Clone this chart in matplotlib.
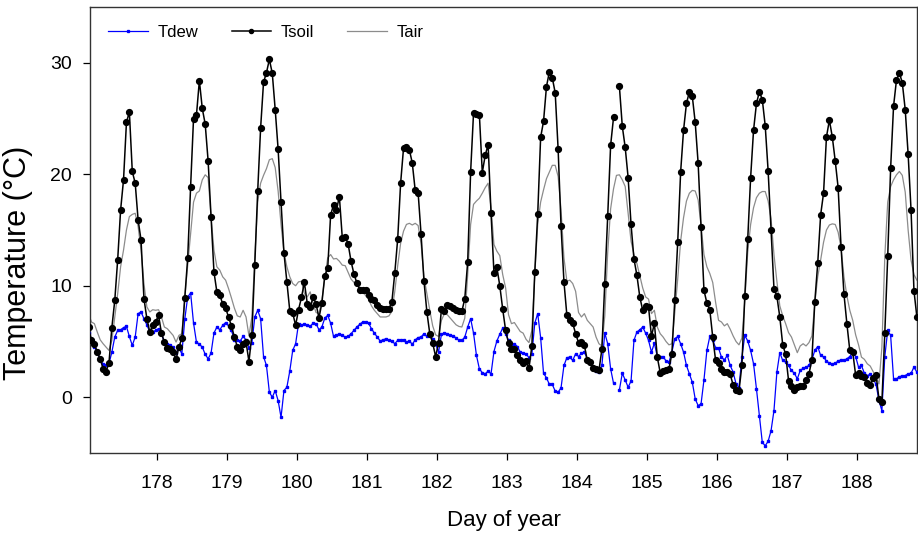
import numpy as np
import matplotlib
matplotlib.use("Agg")
import matplotlib.pyplot as plt

plt.rcParams["font.family"] = ["Liberation Sans", "DejaVu Sans"]

# hourly series, first reading at day 177.022
T0 = 177.022

tsoil = [
    6.3, 5.1, 4.8, 4.05, 3.45, 2.55, 2.3, 3.05, 6.25, 8.7, 12.35, 16.8, 19.5, 24.65, 25.6, 20.25, 19.2, 15.9, 14.1, 8.85, 7.05, 5.85, 6.45, 6.75,
    7.35, 5.75, 4.95, 4.4, 4.35, 4.05, 3.4, 4.5, 5.3, 8.9, 12.5, 18.9, 25.0, 25.3, 28.4, 25.9, 24.5, 21.2, 16.2, 11.25, 9.45, 9.2, 8.35, 8.0,
    7.2, 6.4, 5.4, 4.55, 4.2, 4.8, 4.95, 3.2, 5.6, 11.9, 18.5, 24.15, 28.25, 29.1, 30.3, 29.05, 25.8, 22.25, 17.5, 12.95, 10.3, 7.75, 7.55, 6.45,
    7.85, 8.95, 10.3, 8.4, 8.1, 8.95, 8.4, 7.1, 8.45, 10.9, 11.55, 16.35, 17.25, 16.8, 18.0, 14.3, 14.4, 13.75, 12.2, 11.05, 10.25, 9.65, 9.65, 9.6,
    9.15, 8.85, 8.75, 8.25, 8.0, 7.95, 7.95, 7.95, 8.55, 11.15, 14.2, 19.2, 22.35, 22.45, 22.2, 21.0, 18.55, 18.35, 14.65, 10.45, 7.65, 5.7, 4.85, 3.65,
    4.85, 7.95, 7.7, 8.25, 8.15, 8.0, 7.85, 7.7, 7.7, 8.85, 12.15, 20.2, 25.5, 25.4, 25.35, 20.15, 21.7, 22.65, 16.5, 11.15, 11.65, 10.0, 7.9, 6.0,
    4.85, 4.3, 4.3, 3.75, 3.3, 3.1, 3.25, 2.6, 4.6, 11.25, 16.4, 23.3, 24.75, 27.85, 29.2, 28.65, 27.3, 22.25, 15.35, 10.35, 7.35, 6.95, 6.65, 5.7,
    4.9, 4.95, 4.65, 3.3, 3.15, 2.6, 2.5, 2.4, 4.3, 10.2, 16.25, 22.6, 25.1, np.nan, 27.9, 24.3, 22.4, 19.7, 15.5, 12.4, 10.95, 9.0, 7.8, 8.15,
    8.1, 5.45, 6.65, 3.6, 2.2, 2.35, 2.45, 2.55, 3.9, 8.75, 13.9, 20.2, 23.95, 26.35, 27.4, 27.0, 24.65, 21.0, 15.25, 9.6, 8.45, 7.85, 5.4, 3.3,
    3.05, 2.5, 2.25, 2.3, 2.05, 1.1, 0.65, 0.55, 2.85, 9.05, 14.15, 19.7, 23.95, 26.35, 27.4, 26.7, 24.35, 20.3, 15.0, 9.75, 9.05, 7.2, 4.7, 3.85,
    1.5, 1.05, 0.65, 0.9, 1.0, 1.0, 1.55, 2.1, 3.35, 8.55, 12.0, 16.35, 18.3, 23.35, 24.85, 23.35, 21.2, 18.8, 13.5, 9.25, 6.6, 4.2, 4.05, 2.0,
    2.15, 1.95, 1.85, 1.3, 1.1, 1.7, 2.0, -0.15, -0.45, 5.75, 12.65, 20.55, 26.1, 28.45, 29.1, 28.2, 25.8, 21.8, 16.8, 9.55, 7.2,
]

tdew = [
    5.75, 5.25, 4.55, 4.05, 3.3, 3.0, 2.85, 3.0, 4.05, 5.4, 6.0, 6.05, 6.25, 6.35, 5.45, 4.65, 5.4, 7.5, 7.65, 7.05, 6.5, 5.85, 5.85, 6.0,
    6.15, 5.7, 4.95, 4.8, 4.65, 4.5, 3.95, 4.4, 3.9, 7.0, 9.0, 9.35, 6.65, 4.95, 4.75, 4.5, 3.85, 3.45, 3.95, 5.75, 6.3, 6.05, 6.45, 6.7,
    6.4, 6.0, 5.15, 5.15, 5.05, 5.45, 5.15, 4.4, 4.85, 7.2, 7.8, 7.05, 3.65, 2.85, 0.45, 0.0, 0.6, -0.3, -1.8, 0.6, 0.9, 2.35, 4.2, 4.8,
    6.6, 6.45, 6.6, 6.45, 6.35, 6.65, 6.6, 6.05, 6.3, 7.1, 7.35, 6.65, 5.45, 5.55, 5.7, 5.55, 5.4, 5.45, 5.7, 6.0, 6.3, 6.55, 6.75, 6.75,
    6.65, 6.15, 5.75, 5.4, 5.05, 5.15, 5.25, 5.1, 5.05, 4.8, 5.1, 5.15, 5.15, 4.95, 5.05, 4.75, 5.15, 5.35, 5.4, 5.7, 5.45, 5.45, 5.25, 4.8,
    4.05, 5.65, 5.75, 5.7, 5.55, 5.45, 5.35, 5.1, 5.1, 5.4, 6.3, 7.05, 5.75, 3.75, 2.55, 2.2, 2.1, 2.35, 2.1, 4.1, 5.05, 5.65, 6.2, 5.7,
    5.1, 4.55, 4.8, 4.55, 4.05, 3.95, 3.9, 3.55, 3.85, 6.65, 7.5, 5.35, 2.15, 1.75, 1.15, 1.15, 0.55, 0.45, 0.85, 2.85, 3.55, 3.6, 3.3, 3.9,
    3.65, 3.95, 4.05, 3.45, 3.05, 2.65, 2.35, 2.25, 2.85, 5.75, 4.8, 2.55, 1.25, np.nan, 0.65, 2.15, 1.55, 0.9, 1.45, 5.1, 5.85, 6.05, 6.3, 5.75,
    5.1, 4.05, 4.85, 3.65, 3.65, 3.65, 3.25, 3.15, 4.05, 5.25, 5.45, 4.8, 4.05, 2.85, 2.1, 1.35, -0.15, -0.75, -0.6, 1.55, 4.2, 5.45, 5.1, 4.45,
    4.4, 3.6, 3.35, 3.75, 2.85, 2.25, 1.2, 0.85, 3.6, 5.55, 5.05, 4.2, 3.0, 0.75, -1.65, -4.05, -4.35, -3.95, -3.0, -1.2, 2.25, 4.0, 3.3, 3.15,
    2.85, 2.4, 2.15, 1.65, 2.4, 2.6, 2.7, 2.85, 3.35, 4.2, 4.55, 3.75, 3.6, 3.25, 3.05, 3.0, 3.05, 3.25, 3.35, 3.3, 3.45, 3.65, 4.05, 3.65,
    2.7, 2.85, 2.15, 1.95, 2.05, 1.65, 1.15, -0.3, -1.2, 3.65, 6.0, 5.55, 1.65, 1.65, 1.85, 1.9, 1.95, 2.1, 2.15, 2.7, 2.25,
]

tair = [
    7.5, 6.75, 6.6, 5.85, 5.15, 4.8, 4.5, 4.2, 5.1, 7.2, 9.3, 11.7, 13.2, 15.0, 16.2, 16.4, 16.5, 15.3, 13.2, 10.2, 8.1, 7.65, 7.85, 7.8,
    7.85, 7.2, 6.3, 6.15, 5.85, 5.55, 4.95, 5.55, 5.7, 9.0, 11.8, 14.7, 17.5, 18.3, 18.5, 19.5, 19.95, 19.7, 16.2, 13.2, 11.7, 11.4, 10.8, 10.5,
    9.75, 8.9, 8.0, 7.3, 7.2, 7.8, 7.2, 5.5, 7.2, 12.5, 17.5, 19.2, 19.9, 20.5, 21.3, 21.4, 20.6, 18.5, 15.5, 13.0, 11.7, 10.8, 10.2, 10.0,
    10.35, 10.4, 9.3, 9.0, 9.45, 8.4, 7.6, 7.5, 8.7, 10.7, 12.5, 12.8, 12.4, 12.45, 12.2, 11.85, 11.8, 11.2, 10.6, 10.3, 10.0, 9.85, 9.6, 9.1,
    8.8, 8.2, 7.8, 7.5, 7.2, 7.2, 7.2, 7.3, 7.7, 9.5, 11.8, 13.8, 14.9, 15.5, 15.6, 15.45, 15.6, 15.4, 13.8, 10.8, 9.3, 7.8, 6.4, 5.6,
    5.45, 6.9, 7.5, 7.4, 7.1, 6.8, 6.5, 6.35, 6.3, 7.1, 11.0, 15.5, 17.3, 17.6, 17.85, 18.3, 18.8, 19.2, 17.0, 13.7, 13.1, 12.7, 11.0, 9.8,
    7.4, 6.6, 6.7, 6.3, 5.9, 5.75, 5.2, 4.9, 6.0, 11.0, 15.5, 17.5, 18.6, 19.6, 20.2, 20.8, 20.8, 19.8, 16.8, 12.5, 10.4, 10.5, 10.2, 9.5,
    7.6, 7.2, 7.5, 6.9, 6.6, 6.3, 5.4, 4.8, 4.6, 7.3, 13.0, 16.9, 18.7, 19.9, 19.95, 19.5, 18.9, 16.5, 14.0, 12.8, 12.0, 10.9, 9.8, 9.0,
    8.8, 7.5, 7.8, 6.3, 5.7, 5.4, 5.0, 4.7, 4.8, 7.6, 10.6, 14.0, 16.1, 17.6, 18.3, 18.55, 18.5, 17.7, 15.4, 12.8, 11.7, 11.1, 10.3, 8.5,
    6.9, 6.75, 6.4, 6.6, 6.1, 5.5, 5.0, 4.7, 5.3, 8.6, 13.0, 15.5, 17.0, 17.9, 18.3, 18.45, 18.45, 17.6, 16.0, 12.8, 10.4, 8.2, 7.3, 6.6,
    5.8, 5.4, 4.7, 4.0, 4.6, 4.8, 4.6, 4.9, 5.5, 8.4, 10.8, 12.3, 13.9, 15.0, 15.45, 15.55, 15.5, 14.8, 13.4, 10.8, 9.1, 7.8, 6.9, 5.6,
    4.7, 3.6, 3.4, 3.0, 2.8, 2.3, 1.8, 1.2, 4.5, 12.6, 17.5, 18.9, 19.5, 19.95, 20.25, 19.9, 18.4, 15.0, 12.3, 11.0, 10.5,
]

day_ticks = list(range(178, 189))
temp_ticks = [0, 10, 20, 30]

tsoil = np.array(tsoil)
tdew = np.array(tdew)
tair = np.array(tair)
t = T0 + np.arange(len(tsoil)) / 24.0

fig = plt.figure(figsize=(9.18, 5.35), dpi=100)
ax = fig.add_axes([90 / 918, 82 / 535, 827 / 918, 446 / 535])

ax.plot(t, tair, color="#8c8c8c", lw=0.9, zorder=2, label="Tair")
ax.plot(t, tdew, color="#0000ff", lw=0.9, marker="s", ms=2.0, mec="#0000ff",
        zorder=3, label="Tdew")
ax.plot(t, tsoil, color="black", lw=1.1, marker="o", ms=4.2, zorder=4,
        label="Tsoil")

ax.set_xlim(177.043, 188.857)
ax.set_ylim(-5, 35)
ax.set_xticks(day_ticks)
ax.set_yticks(temp_ticks)
ax.tick_params(axis="both", direction="out", length=5, width=0.9, labelsize=14)
ax.tick_params(axis="x", pad=11)
ax.tick_params(axis="y", pad=8)
for s in ax.spines.values():
    s.set_linewidth(1.0)
    s.set_color("#333333")

ax.set_xlabel("Day of year", fontsize=16, labelpad=13)
ax.set_ylabel("Temperature (\u00b0C)", fontsize=22)
ax.yaxis.set_label_coords(-0.069, 0.426)

h, l = ax.get_legend_handles_labels()
order = [1, 2, 0]
ax.legend([h[i] for i in order], [l[i] for i in order], loc="upper left",
          bbox_to_anchor=(0.0, 1.0), ncol=3, frameon=False, fontsize=12,
          handlelength=2.35, handletextpad=0.6, columnspacing=2.0,
          markerscale=0.7, borderaxespad=0.7)

fig.savefig("out.png", dpi=100)
